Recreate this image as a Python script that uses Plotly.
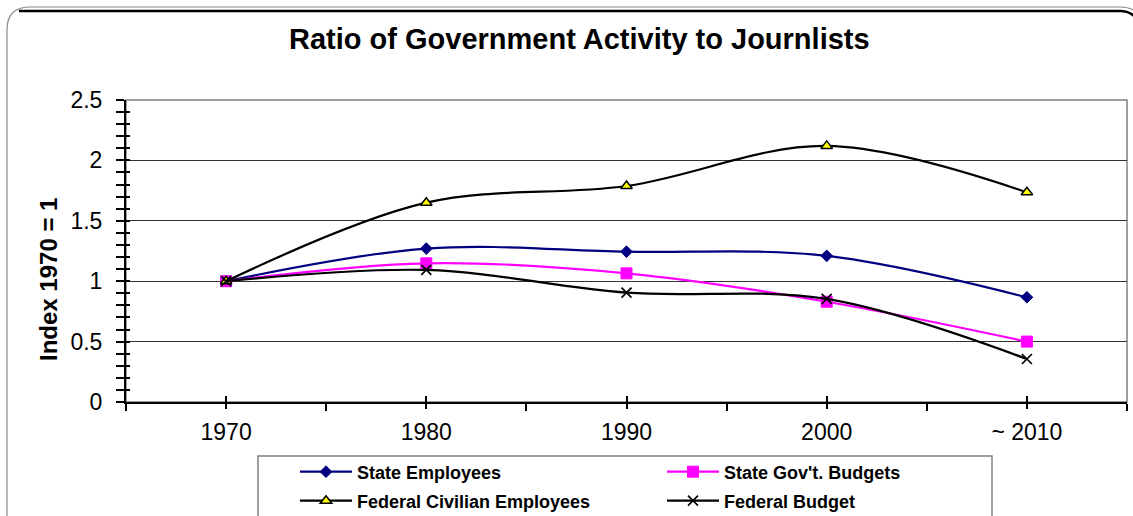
import plotly.graph_objects as go

# Decade categories on the x axis
years = ["1970", "1980", "1990", "2000", "~ 2010"]

# Index values (1970 = 1)
state_employees = [1.0, 1.27, 1.244, 1.21, 0.867]
state_budgets = [1.0, 1.148, 1.065, 0.83, 0.5]
federal_civilian = [1.0, 1.65, 1.788, 2.12, 1.736]
federal_budget = [1.0, 1.093, 0.905, 0.853, 0.356]

y_ticks = [0, 0.5, 1, 1.5, 2, 2.5]

W, H = 1133, 516
ML, MR, MT, MB = 126, 6, 100, 114
PW, PH = W - ML - MR, H - MT - MB
FONT = "Liberation Sans, Arial, sans-serif"


def px(x):
    return (x - ML) / PW


def py(y):
    return (H - MB - y) / PH


fig = go.Figure()

series = [
    ("State Employees", state_employees, "#000080",
     dict(symbol="diamond", size=9, color="#000080", line=dict(color="#000080", width=1)), "legend"),
    ("State Gov't. Budgets", state_budgets, "#FF00FF",
     dict(symbol="square", size=11, color="#FF00FF", line=dict(color="#FF00FF", width=1)), "legend"),
    ("Federal Civilian Employees", federal_civilian, "#000000",
     dict(symbol="triangle-up", size=10, color="#FFFF00", line=dict(color="#000000", width=1.5)), "legend2"),
    ("Federal Budget", federal_budget, "#000000",
     dict(symbol="x-thin", size=10, color="#000000", line=dict(color="#000000", width=1.7)), "legend2"),
]

for name, vals, col, mk, lg in series:
    fig.add_trace(go.Scatter(
        x=years, y=vals, name=name, mode="lines+markers",
        line=dict(color=col, width=2.2, shape="spline", smoothing=1),
        marker=mk, legend=lg, cliponaxis=False,
    ))

n = len(years)
axis_common = dict(showgrid=False, zeroline=False, showticklabels=False,
                   range=[-0.5, n - 0.5], tickvals=list(range(n)),
                   overlaying="x", anchor="y", ticklen=6, tickwidth=1.5,
                   tickcolor="#000000")

legend_common = dict(
    orientation="h", xanchor="left", yanchor="middle",
    entrywidth=300, entrywidthmode="pixels", itemwidth=52,
    bgcolor="rgba(0,0,0,0)", borderwidth=0,
    font=dict(size=18, family=FONT, weight="bold"),
)

fig.update_layout(
    width=W, height=H,
    margin=dict(l=ML, r=MR, t=MT, b=MB, autoexpand=False),
    paper_bgcolor="white", plot_bgcolor="white",
    font=dict(family=FONT, color="#000000"),
    xaxis=dict(
        type="category", range=[-0.5, n - 0.5],
        showline=True, linecolor="#000000", linewidth=2,
        ticks="outside", tickson="boundaries", ticklen=7, tickwidth=1.5,
        tickcolor="#000000", showgrid=False, zeroline=False,
        tickfont=dict(size=23, family=FONT), ticklabelstandoff=8,
    ),
    xaxis2=dict(ticks="outside", **axis_common),
    xaxis3=dict(ticks="inside", **axis_common),
    yaxis=dict(
        range=[0, 2.5], tickvals=y_ticks, ticktext=[f"{v:g}" for v in y_ticks],
        showline=True, linecolor="#000000", linewidth=2,
        ticks="outside", ticklen=8, tickwidth=1.5, tickcolor="#000000",
        minor=dict(dtick=0.1, ticks="outside", ticklen=8, tickwidth=1.5,
                   tickcolor="#000000", showgrid=False),
        showgrid=True, gridcolor="#333333", gridwidth=1, zeroline=False,
        tickfont=dict(size=23, family=FONT), ticklabelstandoff=9,
    ),
    yaxis2=dict(
        range=[0, 2.5], dtick=0.5, overlaying="y", anchor="x",
        showticklabels=False, showgrid=False, zeroline=False,
        ticks="inside", ticklen=4, tickwidth=1.5, tickcolor="#000000",
        minor=dict(dtick=0.1, ticks="inside", ticklen=4, tickwidth=1.5,
                   tickcolor="#000000", showgrid=False),
    ),
    legend=dict(x=px(295), y=py(472), **legend_common),
    legend2=dict(x=px(295), y=py(501), **legend_common),
    showlegend=True,
)

# placeholder traces so the overlay axes are rendered
for xa in ("x2", "x3"):
    fig.add_trace(go.Scatter(x=[None], y=[None], xaxis=xa, showlegend=False,
                             hoverinfo="skip"))
fig.add_trace(go.Scatter(x=[None], y=[None], yaxis="y2", showlegend=False,
                         hoverinfo="skip"))

shapes = []
# gray plot-area frame (top and right)
shapes.append(dict(type="rect", xref="paper", yref="paper", x0=0, x1=1, y0=0, y1=1,
                   line=dict(color="#808080", width=1.5), layer="below"))
# legend box
shapes.append(dict(type="rect", xref="paper", yref="paper",
                   x0=px(258), x1=px(992), y0=py(540), y1=py(456),
                   line=dict(color="#808080", width=1.5), fillcolor="rgba(0,0,0,0)"))


def path(points):
    cmds = []
    for c, pts in points:
        cmds.append(c + " ".join(f"{px(a):.5f},{py(b):.5f}" for a, b in pts))
    return " ".join(cmds)


# rounded chart-area outline with a dark top edge
shapes.append(dict(type="path", xref="paper", yref="paper",
                   path=path([("M", [(7, 530)]), ("L", [(7, 30)]), ("Q", [(7, 7), (30, 7)]),
                              ("L", [(1121, 7)]), ("Q", [(1131, 7), (1138, 13)])]),
                   line=dict(color="#8a8a8a", width=1.2)))
shapes.append(dict(type="path", xref="paper", yref="paper",
                   path=path([("M", [(19, 11)]), ("L", [(1120, 11)]),
                              ("Q", [(1130, 11), (1136, 18)])]),
                   line=dict(color="#000000", width=2.5)))
fig.update_layout(shapes=shapes)

fig.add_annotation(
    text="<b>Ratio of Government Activity to Journlists</b>",
    xref="paper", yref="paper", x=px(579.5), y=py(39),
    xanchor="center", yanchor="middle", showarrow=False,
    font=dict(size=29, family=FONT, color="#000000"),
)
fig.add_annotation(
    text="<b>Index 1970 = 1</b>", textangle=-90,
    xref="paper", yref="paper", x=px(48), y=py(280),
    xanchor="center", yanchor="middle", showarrow=False,
    font=dict(size=24, family=FONT, color="#000000"),
)

fig.write_html("out.html")
